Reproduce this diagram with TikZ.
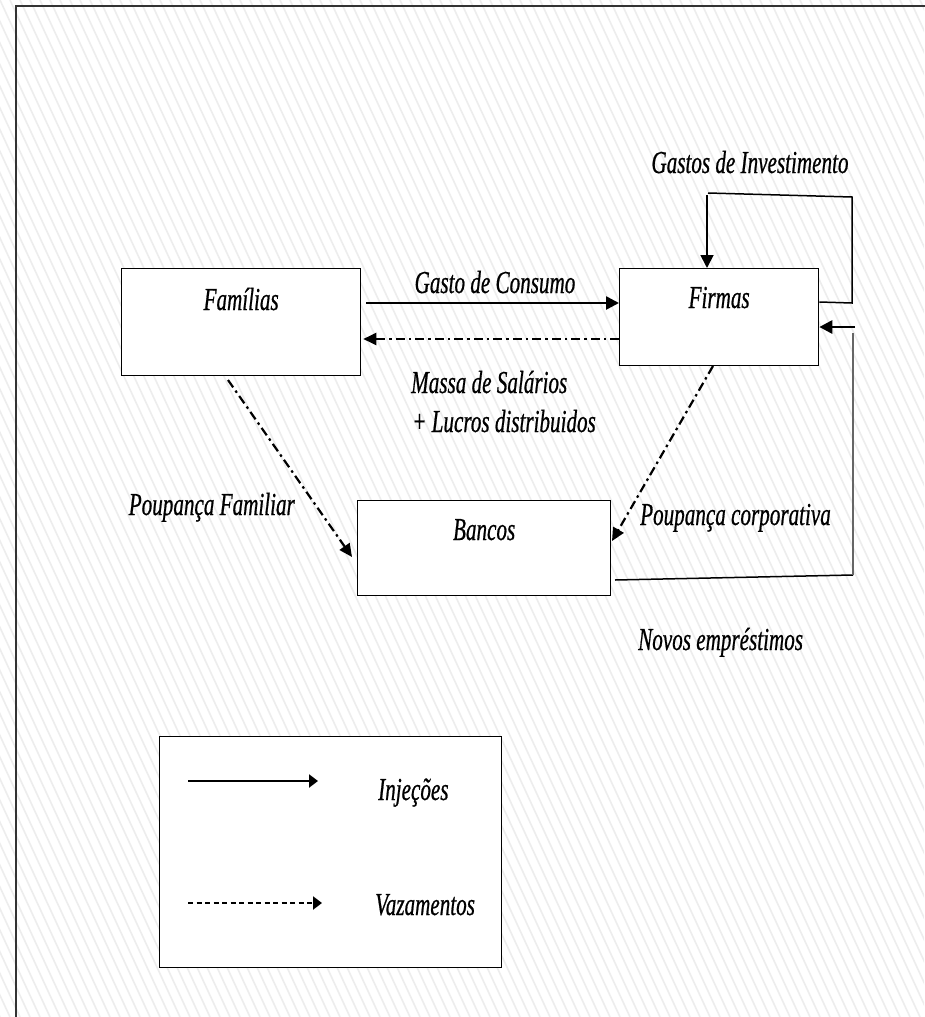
\documentclass[tikz,border=0pt]{standalone}
\usepackage{fontspec}
\setmainfont{Liberation Serif}[FakeStretch=0.66,FakeBold=0.6]
\usetikzlibrary{arrows.meta,calc}
\begin{document}
\begin{tikzpicture}[x=1pt,y=-1pt,
  box/.style={draw=black,fill=white,line width=1.3pt,rectangle,inner sep=0pt,anchor=north west},
  lab/.style={font=\fontsize{32}{38}\selectfont\itshape,inner sep=0pt},
  inj/.style={line width=2.6pt,-{Triangle[length=13pt,width=13pt]}},
  vaz/.style={line width=2.2pt,dash pattern=on 9pt off 4pt on 2.5pt off 4pt,-{Triangle[length=13pt,width=12pt]}},
  legdash/.style={line width=2.6pt,dash pattern=on 5pt off 3.5pt,-{Triangle[length=9pt,width=13pt]}},
  conn/.style={line width=1.5pt},
  hatch/.style={line width=1.6pt,draw=black!7}]
\useasboundingbox (0,0) rectangle (924,1017);
\fill[white] (0,0) rectangle (924,1017);
\begin{scope}
  \clip (0,0) rectangle (924,1017);
  \foreach \i in {-52,...,93} {\draw[hatch] (\i*10,0) -- ++(470,1017);}
\end{scope}
% frame
\draw[line width=1.5pt,black!80] (930,6) -- (16,6) -- (16,1020);
% boxes
\node[box,minimum width=239pt,minimum height=107pt] (fam) at (121,268) {};
\node[box,minimum width=199pt,minimum height=97pt] (fir) at (619,268) {};
\node[box,minimum width=253pt,minimum height=95pt] (ban) at (357,500) {};
\node[box,minimum width=342pt,minimum height=231pt] (leg) at (159,736) {};
% box titles
\node[lab,anchor=base] (famT) at (fam.north |- 0,310) {Famílias};
\node[lab,anchor=base] (firT) at (fir.north |- 0,308) {Firmas};
\node[lab,anchor=base] (banT) at (ban.north |- 0,540) {Bancos};
% flows
\draw[inj] ([xshift=5pt]fam.east |- 0,303) -- (fir.west |- 0,303);
\node[lab,anchor=base] (gc) at (495,293) {Gasto de Consumo};
\draw[vaz] (fir.west |- 0,339) -- ([xshift=2pt]fam.east |- 0,339);
\node[lab,anchor=base west] (ms) at (411,393) {Massa de Salários};
\node[lab,anchor=base west] (ld) at (412,432) {+ Lucros distribuidos};
\coordinate (fs) at (228,380);
\coordinate (fe) at (352,557);
\draw[vaz] (fs) -- (fe);
\node[lab,anchor=base east] (pf) at (295,515) {Poupança Familiar};
\coordinate (cs) at (713,366);
\coordinate (ce) at (612,541);
\draw[vaz] (cs) -- (ce);
\node[lab,anchor=base west] (pc) at (640,525) {Poupança corporativa};
% investment loop
\coordinate (i1) at (852,303);
\coordinate (i2) at (852,197);
\coordinate (i3) at (708,193);
\coordinate (i4) at (707,195);
\draw[conn] (fir.east |- 0,302) -- (i1) -- (i2) -- (i3);
\draw[inj,line width=1.8pt] (i4) -- (fir.north -| i4);
\node[lab,anchor=base] (gi) at (750,173) {Gastos de Investimento};
% loans loop
\coordinate (b1) at (615,580);
\coordinate (n1) at (853,575);
\coordinate (n2) at (853,333);
\coordinate (n3) at (855,327);
\draw[conn] (b1) -- (n1);
\draw[conn,black!60] (n1) -- (n2);
\draw[inj,line width=2.8pt] (n3) -- (fir.east |- n3);
\node[lab,anchor=base west] (ne) at (638,650) {Novos empréstimos};
% legend
\coordinate (l1) at (188,781);
\coordinate (l2) at (318,781);
\coordinate (l3) at (188,903);
\coordinate (l4) at (322,903);
\draw[inj,-{Triangle[length=9pt,width=13pt]}] (l1) -- (l2);
\draw[legdash] (l3) -- (l4);
\node[lab,anchor=base west] (inje) at (378,800) {Injeções};
\node[lab,anchor=base west] (vaze) at (375,915) {Vazamentos};
\end{tikzpicture}
\end{document}
